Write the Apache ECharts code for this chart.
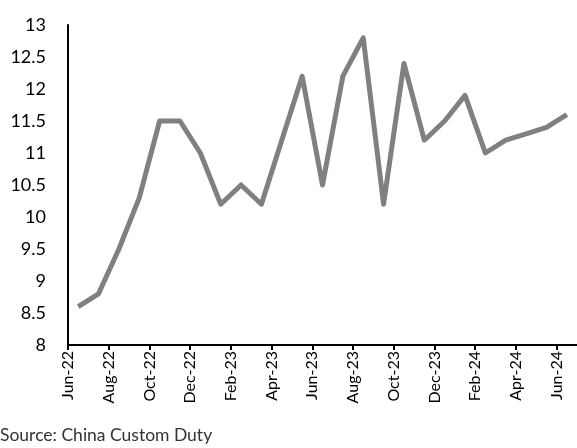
<!DOCTYPE html>
<html>
<head>
<meta charset="utf-8">
<script src="https://cdn.jsdelivr.net/npm/echarts@6/dist/echarts.min.js"></script>
<style>
  html, body { margin: 0; padding: 0; background: #fff; }
  #chart { width: 577px; height: 448px; }
</style>
</head>
<body>
<div id="chart"></div>
<script>
// monthly series, Jun-22 .. Jun-24
const months = ["Jun-22", "Jul-22", "Aug-22", "Sep-22", "Oct-22", "Nov-22", "Dec-22", "Jan-23", "Feb-23", "Mar-23", "Apr-23", "May-23", "Jun-23", "Jul-23", "Aug-23", "Sep-23", "Oct-23", "Nov-23", "Dec-23", "Jan-24", "Feb-24", "Mar-24", "Apr-24", "May-24", "Jun-24"];
const values = [8.6, 8.8, 9.5, 10.3, 11.5, 11.5, 11.0, 10.2, 10.5, 10.2, 11.2, 12.2, 10.5, 12.2, 12.8, 10.2, 12.4, 11.2, 11.5, 11.9, 11.0, 11.2, 11.3, 11.4, 11.6];
const sourceText = "Source: China Custom Duty";

// points sit in the middle of each month, ticks at the month start
const points = values.map((v, i) => [i + 0.5, v]);

var chartDom = document.getElementById('chart');
var myChart = echarts.init(chartDom);

var option = {
    animation: false,
    grid: {
        left: 68,
        right: 0,
        top: 25,
        bottom: 103
    },
    xAxis: {
        type: 'value',
        min: 0,
        max: months.length,
        interval: 2,
        splitLine: { show: false },
        axisLine: { show: true, lineStyle: { color: '#000', width: 2 } },
        axisTick: { show: true, length: 5, lineStyle: { color: '#000', width: 2 } },
        axisLabel: {
            rotate: 90,
            margin: 6,
            fontFamily: 'Lato',
            fontSize: 16,
            color: '#000',
            showMaxLabel: false,
            formatter: v => months[v] || ''
        }
    },
    yAxis: {
        type: 'value',
        min: 8,
        max: 13,
        interval: 0.5,
        splitLine: { show: false },
        axisLine: { show: true, lineStyle: { color: '#000', width: 2 } },
        axisTick: { show: false },
        axisLabel: {
            margin: 22,
            fontFamily: 'Lato',
            fontSize: 18,
            color: '#000'
        }
    },
    graphic: [{
        type: 'text',
        left: 0,
        top: 426,
        style: {
            text: sourceText,
            fontFamily: 'Lato',
            fontSize: 17.5,
            fill: '#333'
        }
    }],
    series: [{
        type: 'line',
        data: points,
        showSymbol: false,
        lineStyle: { color: '#808080', width: 5, join: 'round' }
    }]
};

myChart.setOption(option);
</script>
</body>
</html>
